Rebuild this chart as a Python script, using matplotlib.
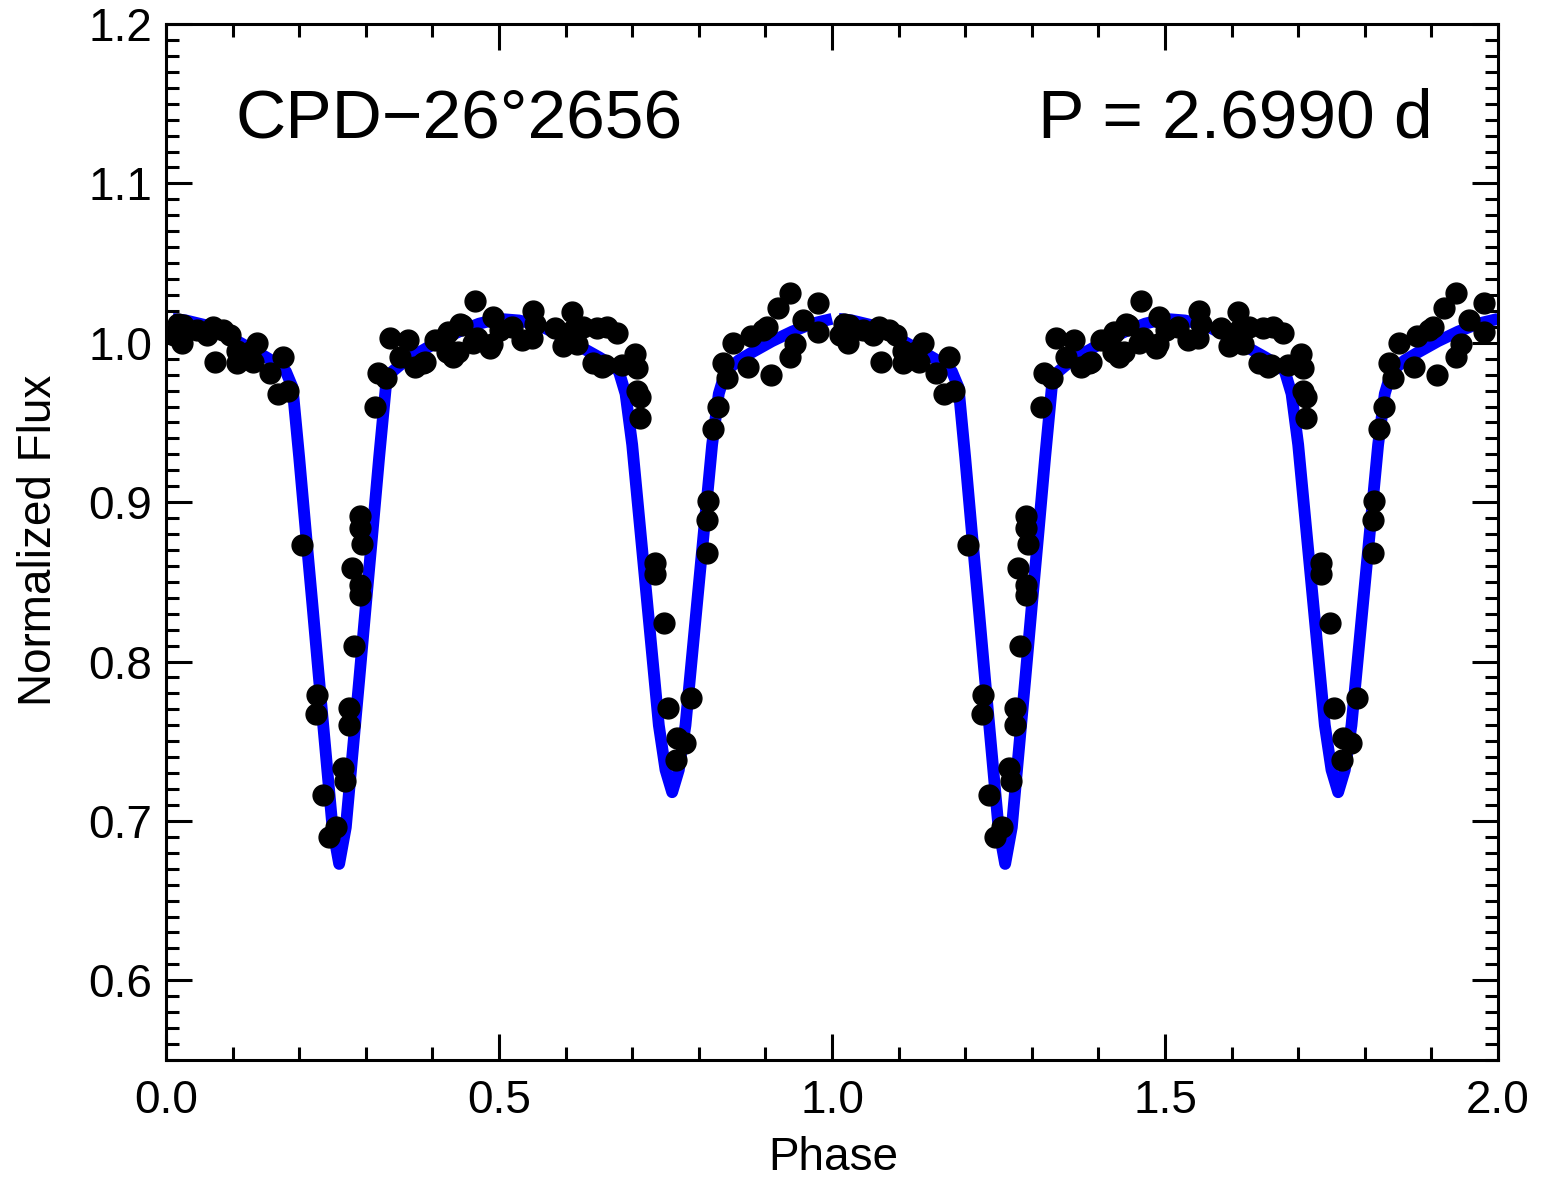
import matplotlib
matplotlib.use('Agg')
import matplotlib.pyplot as plt
import numpy as np
from matplotlib.ticker import MultipleLocator, FormatStrFormatter

plt.rcParams['font.family'] = ['Liberation Sans', 'DejaVu Sans']

# observed points, one cycle (phase, normalized flux)
obs_phase = [0.012, 0.018, 0.024, 0.026, 0.046, 0.061, 0.071, 0.074, 0.086, 0.096,
             0.106, 0.106, 0.126, 0.131, 0.136, 0.156, 0.168, 0.176, 0.183, 0.204,
             0.225, 0.226, 0.236, 0.245, 0.256, 0.266, 0.269, 0.275, 0.275, 0.279,
             0.283, 0.291, 0.291, 0.294, 0.291, 0.291, 0.314, 0.319, 0.331, 0.336,
             0.351, 0.364, 0.374, 0.386, 0.389, 0.404, 0.411, 0.422, 0.423, 0.426,
             0.431, 0.439, 0.441, 0.444, 0.461, 0.464, 0.467, 0.486, 0.489, 0.491,
             0.502, 0.519, 0.535, 0.549, 0.551, 0.554, 0.584, 0.596, 0.609, 0.611,
             0.617, 0.626, 0.641, 0.647, 0.654, 0.659, 0.662, 0.677, 0.684, 0.704,
             0.707, 0.707, 0.712, 0.712, 0.734, 0.734, 0.747, 0.754, 0.766, 0.767,
             0.779, 0.789, 0.812, 0.812, 0.814, 0.822, 0.829, 0.837, 0.842, 0.852,
             0.874, 0.879, 0.897, 0.902, 0.909, 0.919, 0.937, 0.937, 0.944, 0.957,
             0.979, 0.979]
obs_flux = [1.005, 1.012, 1.000, 1.011, 1.008, 1.005, 1.010, 0.988, 1.008, 1.005,
            0.995, 0.987, 0.994, 0.988, 1.000, 0.981, 0.968, 0.991, 0.970, 0.873,
            0.767, 0.779, 0.716, 0.690, 0.696, 0.733, 0.725, 0.771, 0.760, 0.859,
            0.810, 0.891, 0.884, 0.874, 0.848, 0.842, 0.960, 0.981, 0.978, 1.003,
            0.991, 1.002, 0.985, 0.987, 0.988, 1.002, 1.002, 0.994, 1.007, 0.995,
            0.991, 0.994, 1.012, 1.011, 1.000, 1.026, 1.003, 0.997, 0.999, 1.016,
            1.008, 1.010, 1.002, 1.003, 1.020, 1.012, 1.009, 0.998, 1.019, 1.008,
            0.999, 1.010, 0.987, 1.009, 0.985, 0.986, 1.010, 1.006, 0.986, 0.993,
            0.984, 0.970, 0.966, 0.953, 0.862, 0.855, 0.824, 0.771, 0.738, 0.752,
            0.749, 0.777, 0.868, 0.889, 0.901, 0.946, 0.960, 0.987, 0.978, 1.000,
            0.985, 1.004, 1.008, 1.010, 0.980, 1.022, 1.031, 0.991, 0.999, 1.014,
            1.025, 1.007]

# model light curve, one cycle
model_phase = [0.01, 0.03, 0.06, 0.09, 0.12, 0.15, 0.17, 0.18, 0.19, 0.20,
               0.21, 0.22, 0.23, 0.24, 0.25, 0.26, 0.27, 0.28, 0.29, 0.30,
               0.31, 0.32, 0.33, 0.34, 0.36, 0.38, 0.41, 0.44, 0.47, 0.50,
               0.53, 0.56, 0.59, 0.62, 0.65, 0.67, 0.68, 0.69, 0.70, 0.71,
               0.72, 0.73, 0.74, 0.75, 0.76, 0.77, 0.78, 0.79, 0.80, 0.81,
               0.82, 0.83, 0.84, 0.86, 0.88, 0.91, 0.94, 0.97, 1.00]
model_flux = [1.015, 1.014, 1.011, 1.005, 0.998, 0.991, 0.986, 0.982, 0.972, 0.928,
              0.881, 0.835, 0.788, 0.742, 0.696, 0.673, 0.696, 0.742, 0.788, 0.835,
              0.881, 0.928, 0.972, 0.982, 0.989, 0.994, 1.001, 1.007, 1.012, 1.015,
              1.014, 1.011, 1.005, 0.998, 0.991, 0.986, 0.982, 0.968, 0.936, 0.892,
              0.848, 0.804, 0.760, 0.732, 0.718, 0.732, 0.760, 0.804, 0.848, 0.892,
              0.936, 0.968, 0.982, 0.989, 0.994, 1.001, 1.007, 1.012, 1.015]

cycles = [0, 1]

fig = plt.figure(figsize=(15.58, 11.88), dpi=100)
ax = fig.add_axes([166 / 1558, 1 - 1060 / 1188, 1332 / 1558, 1036 / 1188])

for c in cycles:
    ax.plot(np.array(model_phase) + c, model_flux, color='#0000ff', lw=8.5,
            solid_capstyle='butt', solid_joinstyle='round', zorder=2)
    ax.plot(np.array(obs_phase) + c, obs_flux, 'o', color='black', ms=15,
            mec='black', zorder=3)

ax.set_xlim(0, 2)
ax.set_ylim(0.55, 1.2)
ax.xaxis.set_major_locator(MultipleLocator(0.5))
ax.xaxis.set_minor_locator(MultipleLocator(0.1))
ax.yaxis.set_major_locator(MultipleLocator(0.1))
ax.yaxis.set_minor_locator(MultipleLocator(0.01))
ax.xaxis.set_major_formatter(FormatStrFormatter('%.1f'))
ax.yaxis.set_major_formatter(FormatStrFormatter('%.1f'))
ax.tick_params(which='both', direction='in', top=True, right=True, width=2.2,
               labelsize=33)
ax.tick_params(which='major', length=19)
ax.tick_params(which='minor', length=9.5)
ax.tick_params(axis='y', pad=10)
ax.tick_params(axis='x', pad=14)
for s in ax.spines.values():
    s.set_linewidth(2.2)

ax.text(0.105, 1.129, 'CPD\u221226\u00b02656', fontsize=50, ha='left', va='baseline')
ax.text(1.902, 1.129, 'P = 2.6990 d', fontsize=50, ha='right', va='baseline')

fig.text(833 / 1558, 18 / 1188, 'Phase', fontsize=33, ha='center', va='baseline')
fig.text(39 / 1558, 0.5 + (594 - 540) / 1188, 'Normalized Flux', fontsize=33,
         ha='center', va='center', rotation=90)

fig.savefig('out.png', dpi=100)
